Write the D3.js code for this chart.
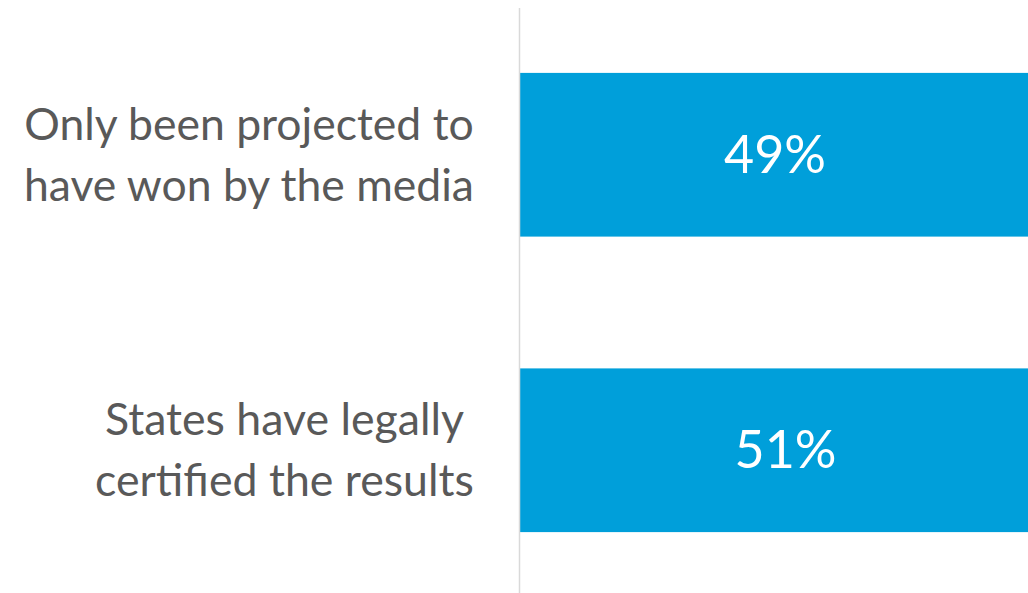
<!DOCTYPE html>
<html><head><meta charset="utf-8">
<script src="https://cdn.jsdelivr.net/npm/d3@7"></script>
<style>html,body{margin:0;padding:0;background:#fff;overflow:hidden}</style>
</head><body>
<svg id="c" width="1028" height="593"></svg>
<script>
const categories = [
  ["Only been projected to", "have won by the media"],
  ["States have legally", "certified the results"]
];
const values = [49, 51];
const valueLabels = ["49%", "51%"];

const svg = d3.select("#c");
const font = "Lato, 'Open Sans', sans-serif";
const x = d3.scaleLinear().domain([0, 100]).range([520, 1565]);
const y = d3.scaleBand().domain(d3.range(values.length)).range([7, 598])
  .paddingInner(0.446).paddingOuter(0.223);

svg.selectAll("rect.bar").data(values).join("rect").attr("class","bar")
  .attr("x", x(0)).attr("y", (d,i)=>y(i))
  .attr("width", d=>x(d)-x(0)).attr("height", y.bandwidth())
  .attr("fill", "#009fda");

svg.append("line").attr("x1",519.5).attr("x2",519.5).attr("y1",8).attr("y2",593)
  .attr("stroke","#d9d9d9").attr("stroke-width",1.5);

svg.selectAll("text.val").data(values).join("text").attr("class","val")
  .attr("x", d=>(x(0)+x(d))/2 - 1).attr("y", (d,i)=>y(i)+y.bandwidth()/2)
  .attr("dy","0.35em").attr("text-anchor","middle")
  .attr("fill","#fff").style("font-family",font).style("font-size","52px")
  .text((d,i)=>valueLabels[i]);

const targetW = [[448,450],[360,379]];
categories.forEach((lines,i)=>{
  const cy = y(i)+y.bandwidth()/2;
  const g = svg.append("g");
  const ts = lines.map((t,j)=> g.append("text")
    .attr("y", cy + (j-0.5)*61).attr("dy","0.35em")
    .attr("text-anchor","middle").attr("fill","#595959")
    .style("font-family",font).style("font-size","44px").text(t));
  const widths = ts.map(t=>t.node().getComputedTextLength());
  const maxW = d3.max(widths);
  const tmax = d3.max(targetW[i]);
  const scale = tmax/maxW;
  ts.forEach(t=>t.style("font-size", (44*scale)+"px"));
  const cx = 474 - tmax/2;
  ts.forEach(t=>t.attr("x", cx));
});
</script>
</body></html>
